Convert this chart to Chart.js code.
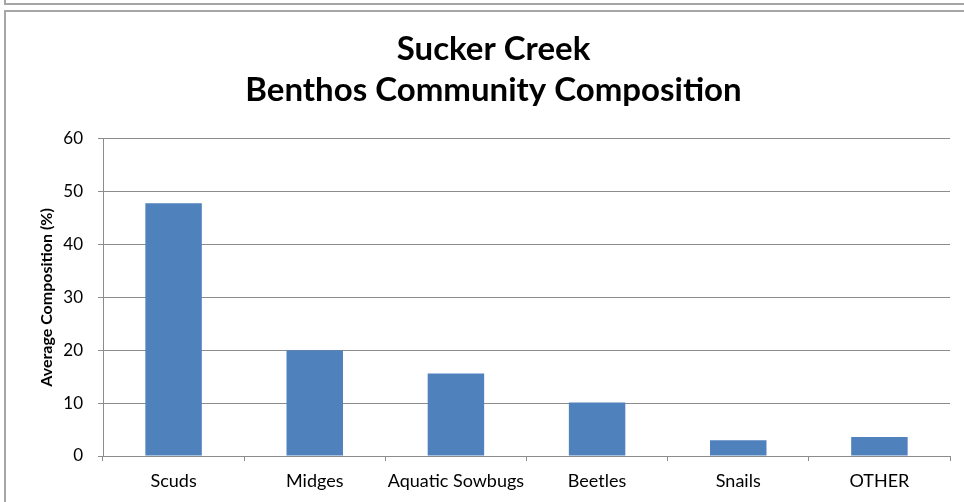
<!DOCTYPE html>
<html>
<head>
<meta charset="utf-8">
<script src="https://cdn.jsdelivr.net/npm/chart.js@4"></script>
<style>
html,body{margin:0;padding:0;background:#fff;width:964px;height:502px;overflow:hidden;}
#wrap{position:absolute;left:0;top:0;width:964px;height:502px;}
.ln{position:absolute;background:#a6a6a6;pointer-events:none;}
</style>
</head>
<body>
<div id="wrap"><canvas id="c" width="964" height="502"></canvas></div>
<div class="ln" style="left:4px;top:0;width:2px;height:5px;"></div>
<div class="ln" style="left:4px;top:3px;width:960px;height:2px;"></div>
<div class="ln" style="left:4px;top:10px;width:960px;height:2px;"></div>
<div class="ln" style="left:4px;top:10px;width:2px;height:492px;"></div>
<script>
const titleLines = ["Sucker Creek", "Benthos Community Composition"];
const categories = ["Scuds", "Midges", "Aquatic Sowbugs", "Beetles", "Snails", "OTHER"];
const values = [47.8, 20.0, 15.6, 10.1, 3.0, 3.6];
const yAxisTitle = "Average Composition (%)";
const yMin = 0, yMax = 60, yStep = 10;

const gridColor = '#8c8c8c';
const fontFam = 'Lato, "Open Sans", sans-serif';

new Chart(document.getElementById('c'), {
  type: 'bar',
  data: {
    labels: categories,
    datasets: [{
      data: values,
      backgroundColor: '#4F81BD',
      borderWidth: 0,
      categoryPercentage: 1.0,
      barPercentage: 0.4
    }]
  },
  options: {
    responsive: false,
    animation: false,
    devicePixelRatio: 1,
    layout: { padding: { left: 37, right: 14, top: 10, bottom: 0 } },
    plugins: {
      legend: { display: false },
      tooltip: { enabled: false },
      title: {
        display: true,
        text: titleLines,
        color: '#000',
        font: { family: fontFam, size: 33, weight: 'bold', lineHeight: 1.24 },
        padding: { top: 19, bottom: 28 }
      }
    },
    scales: {
      x: {
        grid: { display: true, drawOnChartArea: false, drawTicks: true, tickLength: 5, color: gridColor, offset: true },
        border: { color: gridColor, width: 1 },
        ticks: { color: '#000', font: { family: fontFam, size: 18 }, padding: 9, maxRotation: 0, autoSkip: false },
        afterFit: (s) => { s.height = 46; }
      },
      y: {
        min: yMin, max: yMax,
        grid: { color: gridColor, drawTicks: true, tickLength: 5 },
        border: { color: gridColor, width: 1 },
        ticks: { stepSize: yStep, color: '#000', font: { family: fontFam, size: 17 }, padding: 15 },
        title: { display: true, text: yAxisTitle, color: '#000', font: { family: fontFam, size: 16, weight: 'bold' }, padding: 0 },
        afterFit: (s) => { s.width = 66; }
      }
    }
  }
});
</script>
</body>
</html>
